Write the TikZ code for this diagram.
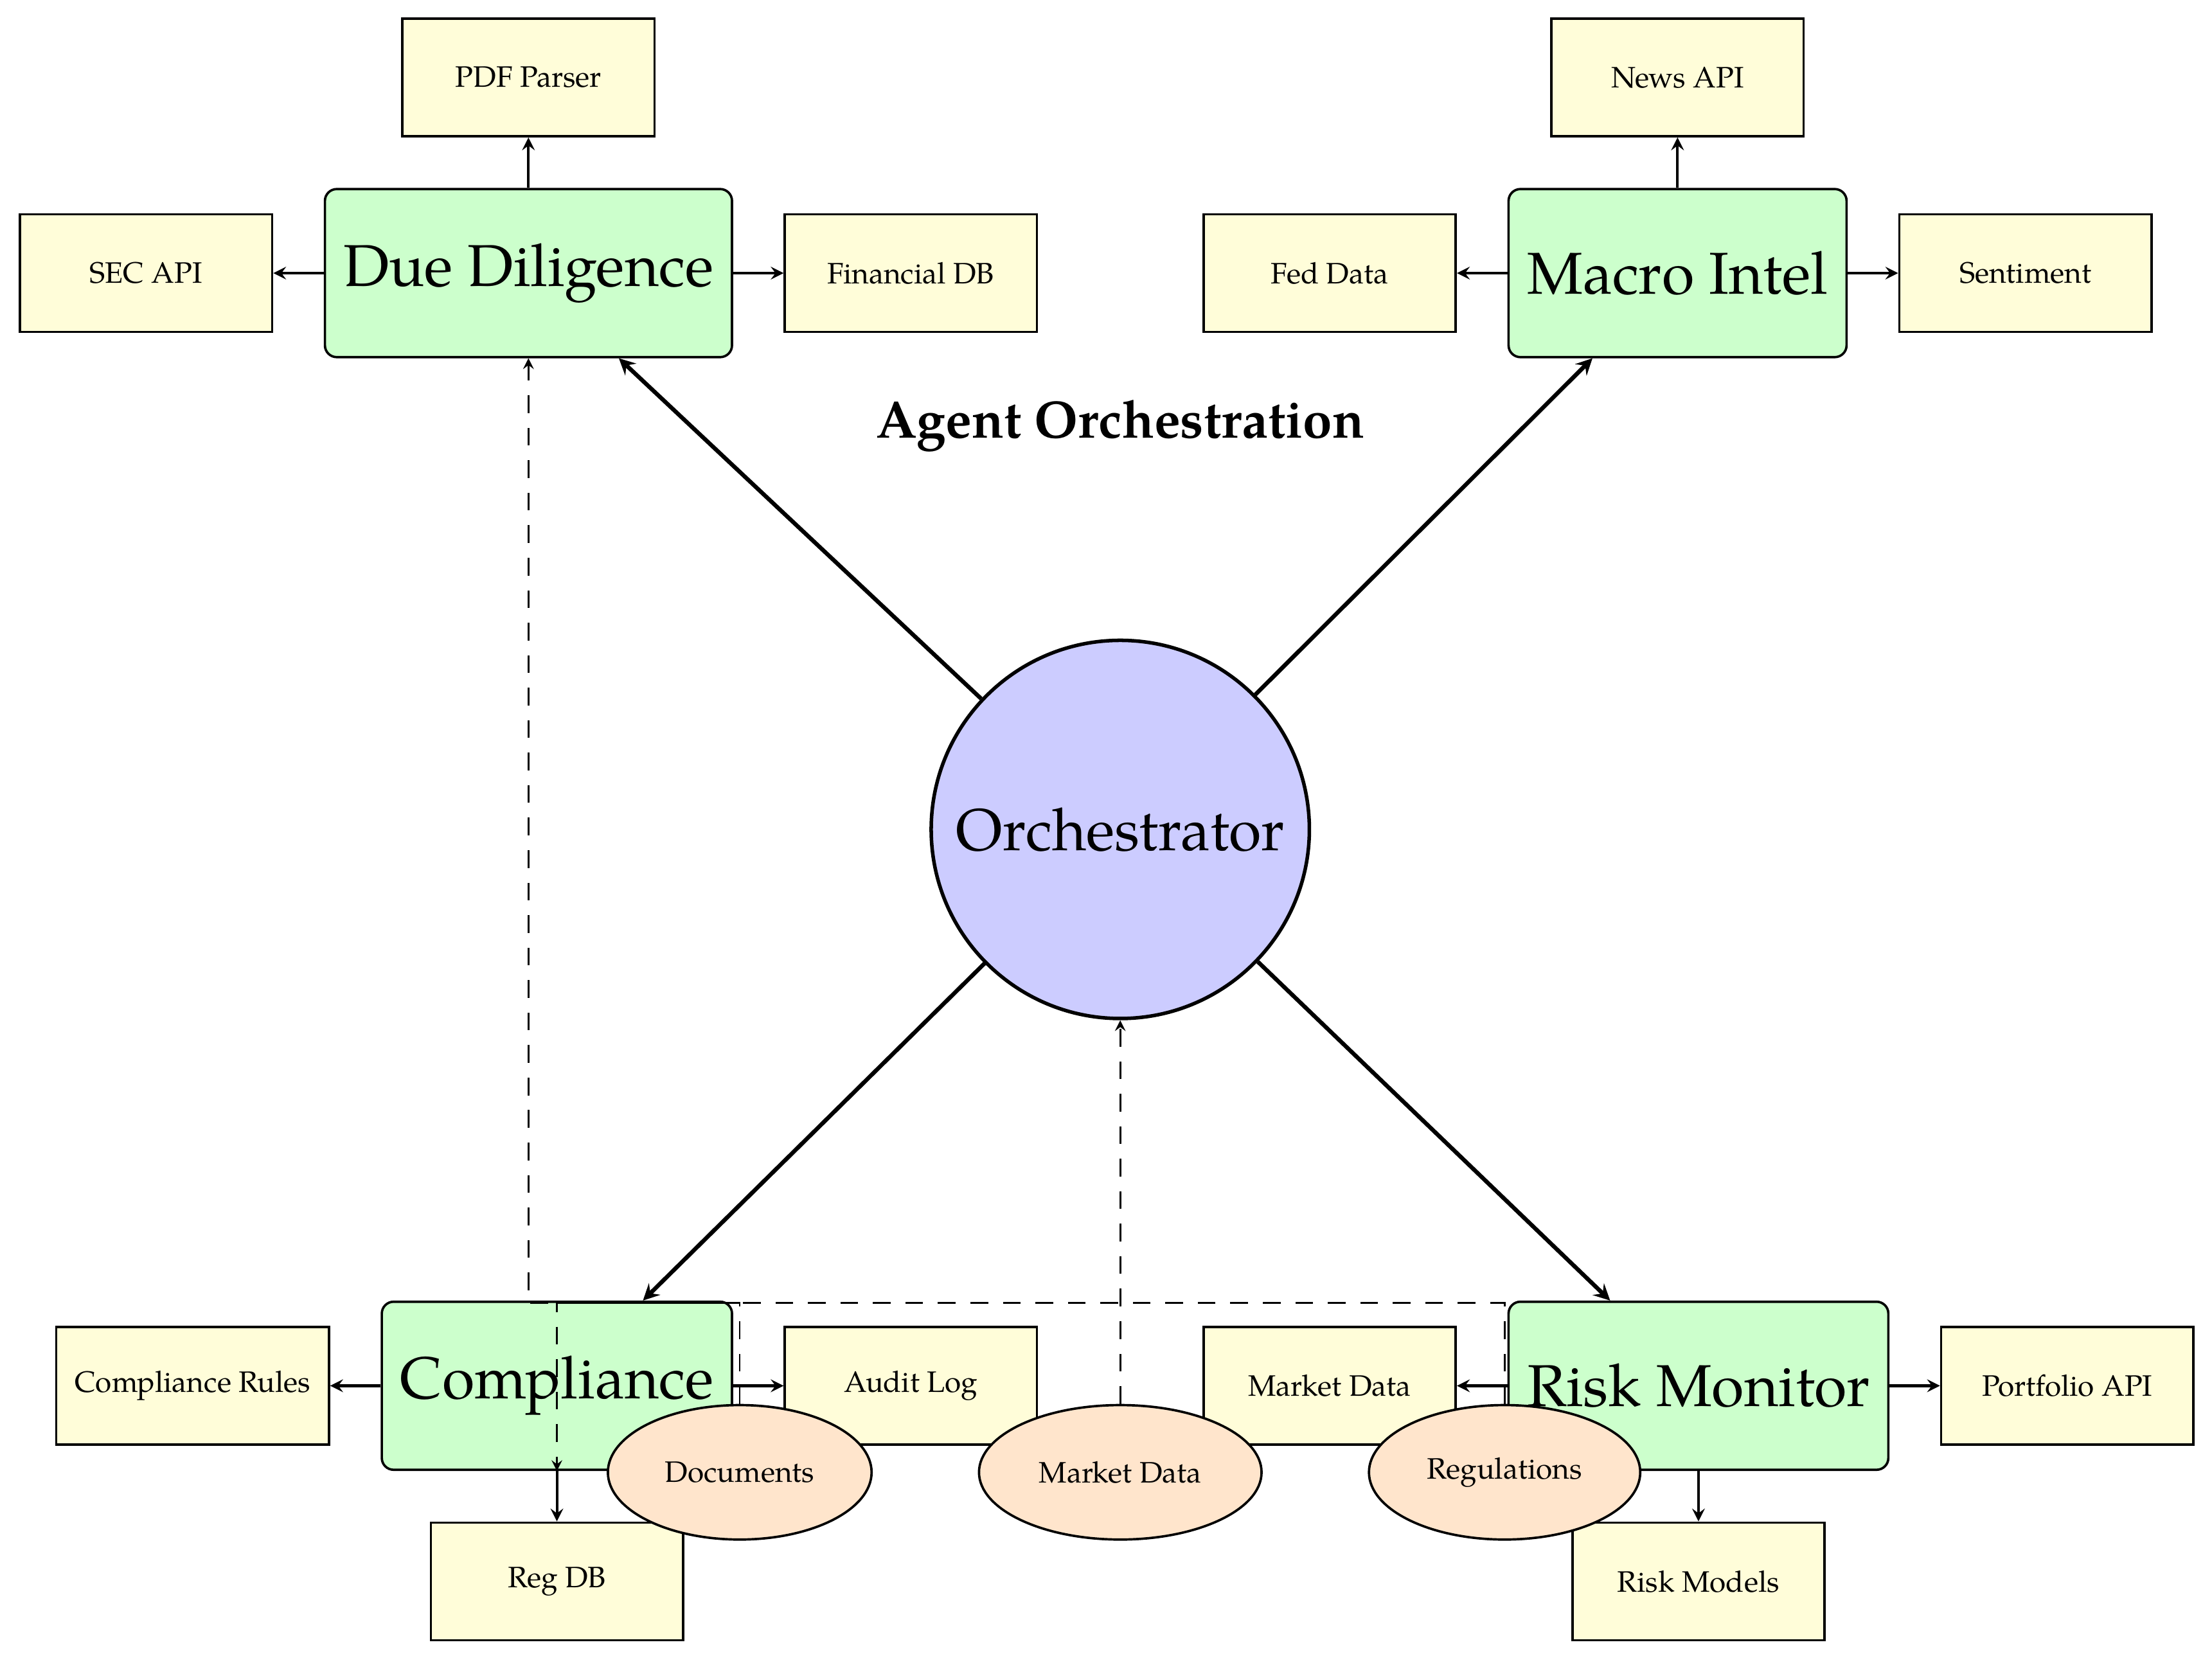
\documentclass[tikz,border=0pt]{standalone}
\usepackage{fontspec}
\setmainfont{TeX Gyre Pagella}
\usetikzlibrary{positioning,shapes.geometric}
\tikzset{
	agent/.style={rectangle,rounded corners,draw,thick,fill=green!20,minimum width=4cm,minimum height=2cm,inner sep=0.22cm,font=\fontsize{20}{24}\selectfont},
	tool/.style={rectangle,draw,thick,fill=yellow!15,minimum width=3cm,minimum height=1.4cm,inner sep=0.22cm},
	hub/.style={circle,draw,very thick,fill=blue!20,minimum size=4.5cm,font=\fontsize{20}{24}\selectfont},
	src/.style={ellipse,draw,thick,fill=orange!20,minimum height=1.6cm,inner sep=0.22cm},
	flow/.style={->,line width=1.4pt},
	subflow/.style={->,line width=0.9pt},
	feed/.style={->,semithick,dash pattern=on 6pt off 5pt}
}

\begin{document}
\begin{tikzpicture}[>=stealth]
	\useasboundingbox (-13.33, -9.83) rectangle (12.99, 9.87);

	\node [hub] (orch) at (0, 0) {Orchestrator};
	\node [font=\fontsize{17.8}{21}\selectfont\bfseries] (title) at (0, 4.8) {Agent Orchestration};

	\node [agent, above left=4cm and 3cm of orch] (dd) {Due Diligence};
	\node [agent, above right=4cm and 3cm of orch] (macro) {Macro Intel};
	\node [agent, below left=4cm and 3cm of orch] (comp) {Compliance};
	\node [agent, below right=4cm and 3cm of orch] (risk) {Risk Monitor};

	\node [tool, above=0.6cm of dd] (pdf) {PDF Parser};
	\node [tool, left=0.6cm of dd] (sec) {SEC API};
	\node [tool, right=0.6cm of dd] (findb) {Financial DB};

	\node [tool, above=0.6cm of macro] (news) {News API};
	\node [tool, left=0.6cm of macro] (fed) {Fed Data};
	\node [tool, right=0.6cm of macro] (senti) {Sentiment};

	\node [tool, left=0.6cm of comp] (rules) {Compliance Rules};
	\node [tool, right=0.6cm of comp] (audit) {Audit Log};
	\node [tool, below=0.6cm of comp] (regdb) {Reg DB};

	\node [tool, left=0.6cm of risk] (mktdata) {Market Data};
	\node [tool, right=0.6cm of risk] (portf) {Portfolio API};
	\node [tool, below=0.6cm of risk] (models) {Risk Models};

	\node [src] (mkt) at (0, -7.65) {Market Data};
	\node [src, left=1.25cm of mkt] (docs) {Documents};
	\node [src, right=1.25cm of mkt] (regs) {Regulations};

	\draw [flow] (orch) -- (dd);
	\draw [flow] (orch) -- (macro);
	\draw [flow] (orch) -- (comp);
	\draw [flow] (orch) -- (risk);

	\draw [subflow] (dd) -- (pdf);
	\draw [subflow] (dd) -- (sec);
	\draw [subflow] (dd) -- (findb);
	\draw [subflow] (macro) -- (news);
	\draw [subflow] (macro) -- (fed);
	\draw [subflow] (macro) -- (senti);
	\draw [subflow] (comp) -- (rules);
	\draw [subflow] (comp) -- (audit);
	\draw [subflow] (comp) -- (regdb);
	\draw [subflow] (risk) -- (mktdata);
	\draw [subflow] (risk) -- (portf);
	\draw [subflow] (risk) -- (models);

	\draw [feed] (docs.north) -- ++(0, 1.2) -| (dd.south);
	\draw [feed] (mkt) -- (orch);
	\draw [feed] (regs.north) -- ++(0, 1.2) -| (comp.south);
\end{tikzpicture}
\end{document}
